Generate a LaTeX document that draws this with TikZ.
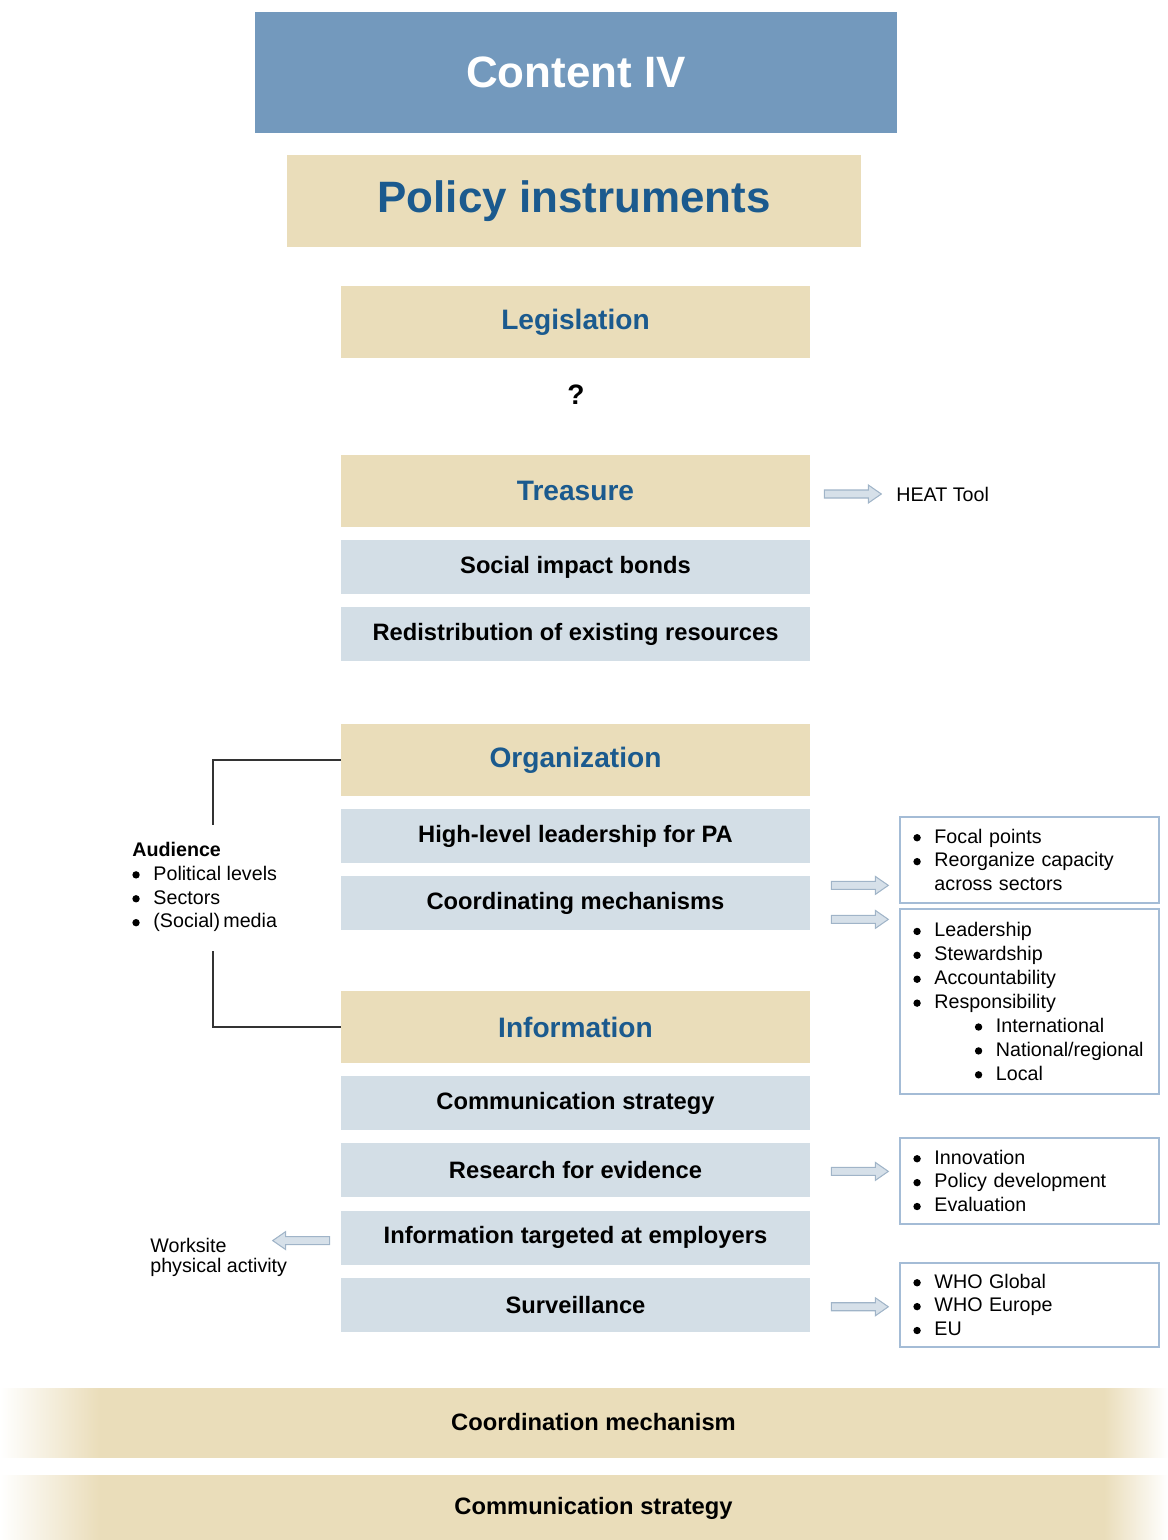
\documentclass[tikz,border=0pt]{standalone}
\usepackage{fontspec}
\setmainfont{Liberation Sans}
\usepackage{xcolor}
\usepackage{tikz}
\usetikzlibrary{positioning,calc}
\definecolor{titleblue}{RGB}{115,153,189}
\definecolor{sandbeige}{RGB}{234,221,186}
\definecolor{mistblue}{RGB}{211,222,230}
\definecolor{inkblue}{RGB}{27,90,142}
\definecolor{frameblue}{RGB}{164,188,214}
\definecolor{arrowedge}{RGB}{160,180,200}
\definecolor{arrowfill}{RGB}{214,224,233}
\definecolor{bracketgray}{RGB}{51,51,51}
\newcommand{\bul}{\makebox[12pt][l]{\tikz[baseline=-3pt]\fill (0,0) circle (2.1pt);}}
\pgfdeclarehorizontalshading{barfade}{100bp}{color(0bp)=(white); color(25bp)=(white); color(29.2bp)=(sandbeige); color(71.5bp)=(sandbeige); color(74.2bp)=(white); color(100bp)=(white)}

\begin{document}
\begin{tikzpicture}[x=0.02cm, y=-0.02cm,
    headbox/.style={fill=sandbeige, minimum width=9.38cm, minimum height=1.44cm, inner sep=0pt,
        font=\fontsize{16}{19}\selectfont\bfseries, text=inkblue},
    itembox/.style={fill=mistblue, minimum width=9.38cm, minimum height=1.08cm, inner sep=0pt,
        font=\fontsize{13.5}{16}\selectfont\bfseries},
    notebox/.style={draw=frameblue, line width=1pt, anchor=north west, minimum width=5.18cm,
        text width=4.64cm, align=left, inner xsep=0.24cm,
        font=\fontsize{11.2}{13.6}\selectfont},
    sidetext/.style={align=left, inner sep=0pt, font=\fontsize{11.2}{13.6}\selectfont},
    barstrip/.style={shading=barfade, minimum width=23.74cm, inner sep=0pt,
        font=\fontsize{13.5}{16}\selectfont\bfseries},
    bracketline/.style={draw=bracketgray, line width=1pt},
    fatarrow/.pic={
        \draw[draw=arrowedge, fill=arrowfill, line width=0.6pt, line join=miter]
            (0,-4) -- (44,-4) -- (44,-9) -- (57,0) -- (44,9) -- (44,4) -- (0,4) -- cycle;
    }]
    \useasboundingbox (0,0) rectangle (1167,1540);

    % Titles
    \node[fill=titleblue, minimum width=12.84cm, minimum height=2.42cm, text=white,
        font=\fontsize{25}{30}\selectfont\bfseries] (content) at (576,72.5) {Content IV};
    \node[fill=sandbeige, minimum width=11.48cm, minimum height=1.84cm, text=inkblue,
        font=\fontsize{25}{30}\selectfont\bfseries] (policy) at (574,201) {Policy instruments};

    % Legislation
    \node[headbox] (legislation) at (575.5,322) {Legislation};
    \node[font=\fontsize{16}{19}\selectfont\bfseries] (unknown) at (576,395) {?};

    % Treasure
    \node[headbox] (treasure) at (575.5,491) {Treasure};
    \node[itembox, below=0.25cm of treasure] (bonds) {Social impact bonds};
    \node[itembox, below=0.25cm of bonds] (redistribution) {Redistribution of existing resources};
    \pic at ($(treasure.east)+(14,3)$) {fatarrow};
    \node[sidetext, anchor=west] (heat) at (896,494) {HEAT Tool};

    % Organization
    \node[headbox] (organization) at (575.5,760) {Organization};
    \node[itembox, below=0.25cm of organization] (leadership) {High-level leadership for PA};
    \node[itembox, below=0.25cm of leadership] (coordinating) {Coordinating mechanisms};
    \pic at ($(coordinating.east)+(21,-18)$) {fatarrow};
    \pic at ($(coordinating.east)+(21,16)$) {fatarrow};
    \node[notebox, minimum height=1.72cm] (focal) at (899,816) {
        \bul Focal points\\
        \bul Reorganize capacity\\
        \hspace*{12pt}across sectors};
    \node[notebox, minimum height=3.7cm] (steward) at (899,908) {
        \bul Leadership\\
        \bul Stewardship\\
        \bul Accountability\\
        \bul Responsibility\\
        \hspace*{35pt}\bul International\\
        \hspace*{35pt}\bul National/regional\\
        \hspace*{35pt}\bul Local};

    % Audience bracket
    \node[sidetext, anchor=west] (audience) at (132,887) {
        \textbf{Audience}\\
        \bul Political levels\\
        \bul Sectors\\
        \bul (Social)\,media};
    \coordinate (audtop) at (213,825);
    \coordinate (audbot) at (213,951);

    % Information
    \node[headbox] (information) at (575.5,1027) {Information};
    \node[itembox, below=0.25cm of information] (commstrategy) {Communication strategy};
    \node[itembox, below=0.25cm of commstrategy] (research) {Research for evidence};
    \node[itembox, below=0.25cm of research] (employers) {Information targeted at employers};
    \node[itembox, below=0.25cm of employers] (surveillance) {Surveillance};
    \draw[bracketline] (organization.west) -| (audtop);
    \draw[bracketline] (information.west) -| (audbot);

    \pic at ($(research.east)+(21,1)$) {fatarrow};
    \node[notebox, minimum height=1.72cm] (innovation) at (899,1137) {
        \bul Innovation\\
        \bul Policy development\\
        \bul Evaluation};
    \pic[xscale=-1] at ($(employers.west)+(-11,3)$) {fatarrow};
    \node[sidetext, anchor=west, font=\fontsize{11.2}{11.5}\selectfont] (worksite) at (150,1257)
        {Worksite\\physical activity};
    \pic at ($(surveillance.east)+(21,2)$) {fatarrow};
    \node[notebox, minimum height=1.68cm] (who) at (899,1262) {
        \bul WHO Global\\
        \bul WHO Europe\\
        \bul EU};

    % Bottom strips
    \node[barstrip, minimum height=1.38cm] (coordbar) at (593.5,1422.5) {Coordination mechanism};
    \node[barstrip, minimum height=1.32cm] (commbar) at (593.5,1508) {Communication strategy};

\end{tikzpicture}
\end{document}
